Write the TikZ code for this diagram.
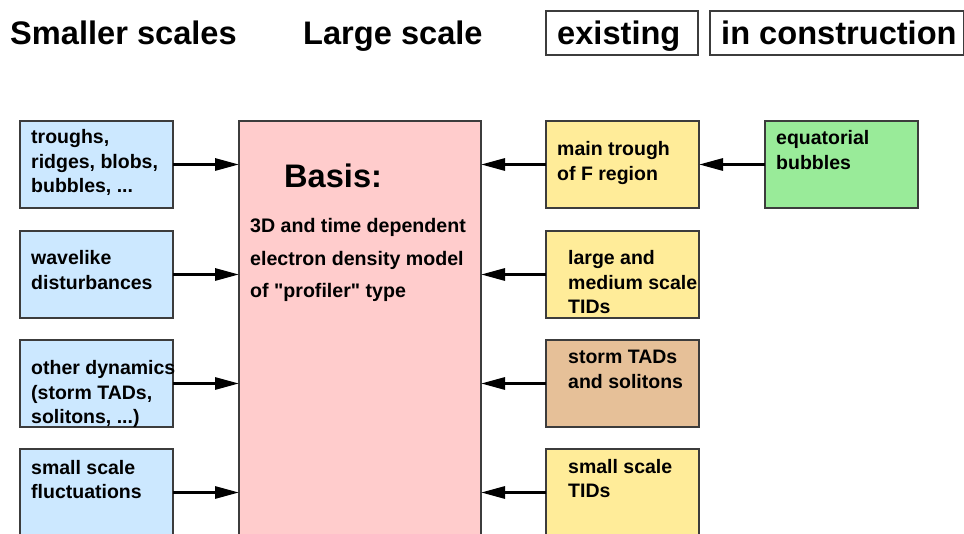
\documentclass[tikz,border=0pt]{standalone}
\usepackage{fontspec}
\setmainfont{Liberation Sans}
\usetikzlibrary{arrows.meta}
\definecolor{bluebox}{RGB}{204,232,255}
\definecolor{pinkbox}{RGB}{255,204,204}
\definecolor{yellowbox}{RGB}{255,236,153}
\definecolor{brownbox}{RGB}{230,192,152}
\definecolor{greenbox}{RGB}{153,235,153}
\definecolor{edge}{RGB}{60,60,60}
\newcommand{\mlines}[1]{\begin{tabular}[t]{@{}l@{}}#1\end{tabular}}
\begin{document}
\begin{tikzpicture}[x=1pt,y=-1pt,
  box/.style={draw=edge,line width=1.2pt,outer sep=0pt,inner sep=0pt,anchor=north west,
    minimum width=153pt,minimum height=87pt},
  title/.style={inner sep=0pt,anchor=base west,font=\fontsize{32.6}{38}\selectfont\bfseries},
  txt/.style={inner sep=0pt,anchor=base west,font=\fontsize{19.5}{24.5}\selectfont\bfseries},
  btxt/.style={inner sep=0pt,anchor=base west,font=\fontsize{19.6}{32.5}\selectfont\bfseries},
  arr/.style={line width=3pt,-{Triangle[length=24pt,width=12pt]}}]
\useasboundingbox (0,0) rectangle (964,534);
\clip (0,0) rectangle (964,534);
% titles and legend
\node[title] (ts) at (10,45) {Smaller scales};
\node[title] (tl) at (303,45) {Large scale};
\node[draw=edge,line width=1.2pt,outer sep=0pt,inner sep=0pt,anchor=north west,
  minimum width=152pt,minimum height=44pt] (lex) at (546,11) {};
\node[draw=edge,line width=1.2pt,outer sep=0pt,inner sep=0pt,anchor=north west,
  minimum width=254pt,minimum height=44pt] (lic) at (710,11) {};
\node[title] (tex) at (557,45) {existing};
\node[title] (tic) at (721,45) {in construction};
% central box
\node[box,fill=pinkbox,minimum width=242pt,minimum height=480pt] (p) at (239,121) {};
\node[title] (basis) at (284,188) {Basis:};
\node[btxt] (pt) at (250,233) {\fontsize{19.6}{32.5}\selectfont\mlines{3D and time dependent\\electron density model\\of \textquotedbl profiler\textquotedbl{} type}};
% left boxes
\node[box,fill=bluebox] (l1) at (20,121) {};
\node[box,fill=bluebox] (l2) at (20,231) {};
\node[box,fill=bluebox] (l3) at (20,340) {};
\node[box,fill=bluebox] (l4) at (20,449) {};
\node[txt] (lt1) at (31,144) {\mlines{troughs,\\ridges, blobs,\\bubbles, ...}};
\node[txt] (lt2) at (31,265) {\mlines{wavelike\\disturbances}};
\node[txt] (lt3) at (31,375) {\mlines{other dynamics\\(storm TADs,\\solitons, ...)}};
\node[txt] (lt4) at (31,474) {\mlines{small scale\\fluctuations}};
% right boxes
\node[box,fill=yellowbox] (r1) at (546,121) {};
\node[box,fill=yellowbox] (r2) at (546,231) {};
\node[box,fill=brownbox] (r3) at (546,340) {};
\node[box,fill=yellowbox] (r4) at (546,449) {};
\node[box,fill=greenbox] (g) at (765,121) {};
\node[txt] (rt1) at (557,156) {\mlines{main trough\\of F region}};
\node[txt] (rt2) at (568,265) {\mlines{large and\\medium scale\\TIDs}};
\node[txt] (rt3) at (568,364) {\mlines{storm TADs\\and solitons}};
\node[txt] (rt4) at (568,473) {\mlines{small scale\\TIDs}};
\node[txt] (gt) at (776,145) {\mlines{equatorial\\bubbles}};
% arrows
\foreach \b in {l1,l2,l3,l4} \draw[arr] (\b.east) -- (p.west |- \b.east);
\foreach \b in {r1,r2,r3,r4} \draw[arr] (\b.west) -- (p.east |- \b.west);
\draw[arr] (g.west) -- (r1.east |- g.west);
\end{tikzpicture}
\end{document}
